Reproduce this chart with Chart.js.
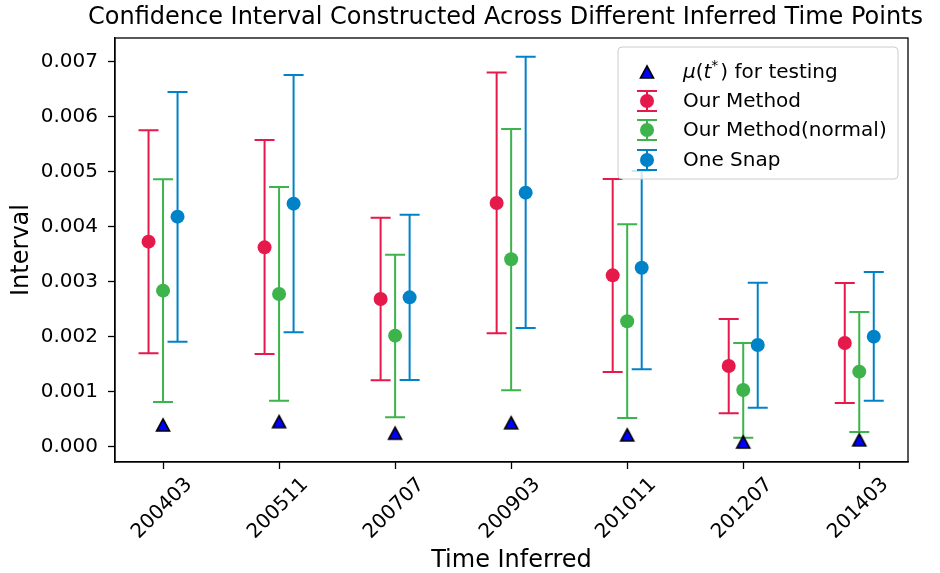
<!DOCTYPE html>
<html>
<head>
<meta charset="utf-8">
<script src="https://cdn.jsdelivr.net/npm/chart.js@4.4.1/dist/chart.umd.min.js"></script>
<style>
  html, body { margin: 0; padding: 0; background: #fff; }
  #wrap { width: 940px; height: 573px; }
</style>
</head>
<body>
<div id="wrap"><canvas id="chart" width="940" height="573"></canvas></div>
<script>
// Data
const categories = ['200403', '200511', '200707', '200903', '201011', '201207', '201403'];

const muTest = [0.00040, 0.00046, 0.00025, 0.00044, 0.00022, 0.00009, 0.00013];

const ourMean = [0.003733, 0.003630, 0.002691, 0.004436, 0.003121, 0.001473, 0.001891];
const ourLow  = [0.001703, 0.001691, 0.001212, 0.002067, 0.001364, 0.000612, 0.000800];
const ourHigh = [0.005758, 0.005582, 0.004170, 0.006810, 0.004873, 0.002327, 0.002982];

const normMean = [0.002842, 0.002782, 0.002024, 0.003412, 0.002285, 0.001036, 0.001370];
const normLow  = [0.000818, 0.000842, 0.000539, 0.001030, 0.000527, 0.000170, 0.000273];
const normHigh = [0.004867, 0.004727, 0.003497, 0.005780, 0.004048, 0.001891, 0.002455];

const snapMean = [0.004188, 0.004424, 0.002721, 0.004624, 0.003260, 0.001855, 0.002006];
const snapLow  = [0.001915, 0.002085, 0.001218, 0.002164, 0.001412, 0.000715, 0.000842];
const snapHigh = [0.006455, 0.006764, 0.004224, 0.007097, 0.005018, 0.002988, 0.003182];

const yTicks = [0, 0.001, 0.002, 0.003, 0.004, 0.005, 0.006, 0.007];

const RED = '#e6194b';
const GREEN = '#3cb44b';
const BLUE = '#0082c8';
const FONT = "'DejaVu Sans', sans-serif";
const TITLE = 'Confidence Interval Constructed Across Different Inferred Time Points';

// series with error bars, offset around each category
const series = [
  { label: 'Our Method', color: RED, offset: -0.125, mean: ourMean, low: ourLow, high: ourHigh },
  { label: 'Our Method(normal)', color: GREEN, offset: 0, mean: normMean, low: normLow, high: normHigh },
  { label: 'One Snap', color: BLUE, offset: 0.125, mean: snapMean, low: snapLow, high: snapHigh },
];

// matplotlib-like '^' marker, centred on its bounding box
function makeTriangle() {
  const c = document.createElement('canvas');
  c.width = 18; c.height = 18;
  const g = c.getContext('2d');
  g.beginPath();
  g.moveTo(9, 3);
  g.lineTo(15.5, 15);
  g.lineTo(2.5, 15);
  g.closePath();
  g.fillStyle = '#0000ff';
  g.fill();
  g.lineWidth = 1.6;
  g.strokeStyle = '#000';
  g.lineJoin = 'miter';
  g.stroke();
  return c;
}
const triangle = makeTriangle();

const datasets = [
  {
    label: 'mu',
    data: muTest.map((v, i) => ({ x: i, y: v })),
    pointStyle: triangle,
  },
  ...series.map(s => ({
    label: s.label,
    data: s.mean.map((v, i) => ({ x: i + s.offset, y: v })),
    pointStyle: 'circle',
    pointRadius: 7,
    backgroundColor: s.color,
    borderWidth: 0,
  })),
];

// error bars drawn behind the dots, through the chart scales
const errorBars = {
  id: 'errorBars',
  beforeDatasetsDraw(chart) {
    const { ctx, scales: { x, y } } = chart;
    ctx.save();
    ctx.lineWidth = 2;
    series.forEach(s => {
      ctx.strokeStyle = s.color;
      s.mean.forEach((m, i) => {
        const px = x.getPixelForValue(i + s.offset);
        const top = y.getPixelForValue(s.high[i]);
        const bot = y.getPixelForValue(s.low[i]);
        ctx.beginPath();
        ctx.moveTo(px, top); ctx.lineTo(px, bot);
        ctx.moveTo(px - 10, top); ctx.lineTo(px + 10, top);
        ctx.moveTo(px - 10, bot); ctx.lineTo(px + 10, bot);
        ctx.stroke();
      });
    });
    ctx.restore();
  }
};

// title, frame and legend on top
const frameAndLegend = {
  id: 'frameAndLegend',
  afterDraw(chart) {
    const { ctx, chartArea: a } = chart;
    ctx.save();
    ctx.strokeStyle = '#000';
    ctx.lineWidth = 1.3;
    ctx.strokeRect(a.left, a.top, a.right - a.left, a.bottom - a.top);

    // title, centred a bit left of the plot like the reference
    ctx.fillStyle = '#000';
    ctx.font = `24px ${FONT}`;
    ctx.textAlign = 'center';
    ctx.textBaseline = 'middle';
    ctx.fillText(TITLE, 505.5, 18);

    // legend box
    const lx = 618, ly = 47, lw = 280, lh = 132, r = 4;
    ctx.beginPath();
    ctx.roundRect(lx, ly, lw, lh, r);
    ctx.fillStyle = 'rgba(255,255,255,0.8)';
    ctx.fill();
    ctx.strokeStyle = '#cccccc';
    ctx.lineWidth = 1;
    ctx.stroke();

    const mx = 647, tx = 683;
    const rows = [72, 101, 130, 160];
    ctx.textBaseline = 'middle';
    ctx.textAlign = 'left';

    // triangle marker
    ctx.drawImage(triangle, mx - 9, rows[0] - 9);

    // mathtext label: μ(t*) for testing
    let cx = tx;
    const parts = [
      { t: 'μ', f: `italic 20px ${FONT}`, dy: 1 },
      { t: '(', f: `20px ${FONT}`, dy: 1 },
      { t: 't', f: `italic 20px ${FONT}`, dy: 1 },
      { t: '*', f: `14px ${FONT}`, dy: -6 },
      { t: ')', f: `20px ${FONT}`, dy: 1 },
      { t: ' for testing', f: `20px ${FONT}`, dy: 1 },
    ];
    ctx.fillStyle = '#000';
    parts.forEach(p => {
      ctx.font = p.f;
      ctx.fillText(p.t, cx, rows[0] + p.dy);
      cx += ctx.measureText(p.t).width + (p.t === '*' ? 2 : 0);
    });

    // errorbar markers
    series.forEach((s, k) => {
      const yy = rows[k + 1];
      ctx.strokeStyle = s.color;
      ctx.lineWidth = 2;
      ctx.beginPath();
      ctx.moveTo(mx, yy - 10); ctx.lineTo(mx, yy + 10);
      ctx.moveTo(mx - 10, yy - 10); ctx.lineTo(mx + 10, yy - 10);
      ctx.moveTo(mx - 10, yy + 10); ctx.lineTo(mx + 10, yy + 10);
      ctx.stroke();
      ctx.beginPath();
      ctx.arc(mx, yy, 7, 0, Math.PI * 2);
      ctx.fillStyle = s.color;
      ctx.fill();
      ctx.fillStyle = '#000';
      ctx.font = `20px ${FONT}`;
      ctx.fillText(s.label, tx, yy + 1);
    });
    ctx.restore();
  }
};

new Chart(document.getElementById('chart'), {
  type: 'scatter',
  data: { datasets },
  plugins: [errorBars, frameAndLegend],
  options: {
    responsive: false,
    animation: false,
    devicePixelRatio: 1,
    layout: { padding: { left: 0, right: 32, top: 38, bottom: 0 } },
    plugins: {
      legend: { display: false },
      tooltip: { enabled: false },
      title: { display: false },
    },
    scales: {
      x: {
        type: 'linear',
        min: -0.414,
        max: 6.42,
        afterBuildTicks: (scale) => { scale.ticks = categories.map((c, i) => ({ value: i })); },
        afterFit: (scale) => { scale.height = 111; },
        ticks: {
          callback: (v) => categories[v],
          minRotation: 45,
          maxRotation: 45,
          labelOffset: 26,
          color: '#000',
          padding: 4,
          font: { family: FONT, size: 20 },
        },
        grid: { drawOnChartArea: false, drawTicks: true, tickLength: 7, tickColor: '#000', tickWidth: 1.3 },
        border: { display: true, color: '#000', width: 1.3 },
        title: {
          display: true,
          text: 'Time Inferred',
          color: '#000',
          font: { family: FONT, size: 24, lineHeight: 1 },
          padding: { top: 0, bottom: 0 },
        },
      },
      y: {
        type: 'linear',
        min: -0.000273,
        max: 0.007436,
        afterBuildTicks: (scale) => { scale.ticks = yTicks.map(v => ({ value: v })); },
        afterFit: (scale) => { scale.width = 115; },
        ticks: {
          callback: (v) => v.toFixed(3),
          color: '#000',
          padding: 10,
          font: { family: FONT, size: 20 },
        },
        grid: { drawOnChartArea: false, drawTicks: true, tickLength: 7, tickColor: '#000', tickWidth: 1.3 },
        border: { display: true, color: '#000', width: 1.3 },
        title: {
          display: true,
          text: 'Interval',
          color: '#000',
          font: { family: FONT, size: 24, lineHeight: 1 },
          padding: { top: 10, bottom: 0 },
        },
      },
    },
  },
});
</script>
</body>
</html>
